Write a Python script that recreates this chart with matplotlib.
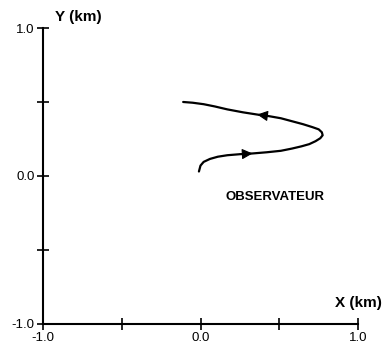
import numpy as np
import matplotlib
matplotlib.use('Agg')
import matplotlib.pyplot as plt

# trajectory (km)
traj_x = [-0.01, 0.00, 0.02, 0.06, 0.11, 0.17, 0.25, 0.33, 0.42, 0.51, 0.58, 0.64, 0.69, 0.73,
          0.76, 0.775, 0.77, 0.75, 0.71, 0.65, 0.58, 0.51, 0.43, 0.36, 0.27, 0.17, 0.09, 0.02,
          -0.05, -0.11]
traj_y = [0.03, 0.07, 0.095, 0.115, 0.13, 0.14, 0.147, 0.152, 0.16, 0.17, 0.185, 0.20, 0.215, 0.235,
          0.255, 0.275, 0.295, 0.315, 0.33, 0.35, 0.37, 0.39, 0.405, 0.415, 0.43, 0.45, 0.47, 0.485,
          0.495, 0.50]
arrow_idx = [7, 23]  # arrow heads along the path

ticks = [-1.0, -0.5, 0.0, 0.5, 1.0]
tick_labels = ['-1.0', '', '0.0', '', '1.0']

plt.rcParams['font.family'] = ['Liberation Sans', 'DejaVu Sans']

fig = plt.figure(figsize=(3.83, 3.46), dpi=100)
ax = fig.add_axes([0.112, 0.064, 0.823, 0.855])

ax.plot(traj_x, traj_y, color='black', lw=1.6, solid_capstyle='round', solid_joinstyle='round')
for i in arrow_idx:
    ax.annotate('', xy=(traj_x[i], traj_y[i]), xytext=(traj_x[i - 1], traj_y[i - 1]),
                arrowprops=dict(arrowstyle='-|>', mutation_scale=16, color='black', lw=0.8,
                                shrinkA=0, shrinkB=0))

ax.text(0.16, -0.14, 'OBSERVATEUR', fontsize=9.5, fontweight='bold', va='center', ha='left')

ax.set_xlim(-1, 1)
ax.set_ylim(-1, 1)
ax.set_xticks(ticks)
ax.set_xticklabels(tick_labels)
ax.set_yticks(ticks)
ax.set_yticklabels(tick_labels)
ax.tick_params(direction='inout', length=8, width=1.2, labelsize=9.5, pad=2)

for s in ['top', 'right']:
    ax.spines[s].set_visible(False)
for s in ['left', 'bottom']:
    ax.spines[s].set_linewidth(1.5)

fig.text(0.144, 0.95, 'Y (km)', fontsize=11, fontweight='bold', va='center', ha='left')
fig.text(0.998, 0.124, 'X (km)', fontsize=11, fontweight='bold', va='center', ha='right')

plt.savefig('out.png', dpi=100)
